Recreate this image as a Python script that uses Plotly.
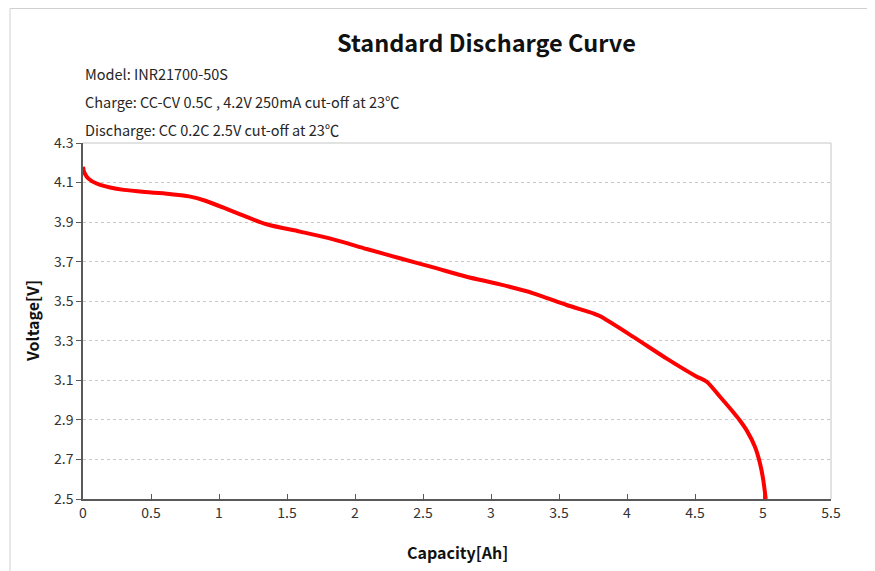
import plotly.graph_objects as go

# Discharge curve
capacity = [0.0, 0.01, 0.04, 0.1, 0.2, 0.3, 0.5, 0.65, 0.78, 0.9, 1.105, 1.35, 1.596,
            1.84, 2.086, 2.33, 2.576, 2.82, 3.066, 3.311, 3.556, 3.752, 3.8, 4.046,
            4.292, 4.51, 4.586, 4.684, 4.78, 4.83, 4.88, 4.94, 4.978, 5.002, 5.02]
voltage = [4.18, 4.15, 4.12, 4.095, 4.075, 4.063, 4.05, 4.041, 4.03, 4.008, 3.953,
           3.889, 3.852, 3.813, 3.764, 3.717, 3.671, 3.624, 3.585, 3.54, 3.481, 3.439,
           3.425, 3.32, 3.21, 3.12, 3.093, 3.017, 2.94, 2.897, 2.847, 2.765, 2.68,
           2.596, 2.50]

x_ticks = [0, 0.5, 1, 1.5, 2, 2.5, 3, 3.5, 4, 4.5, 5, 5.5]
y_ticks = [2.5, 2.7, 2.9, 3.1, 3.3, 3.5, 3.7, 3.9, 4.1, 4.3]

info_lines = [
    "Model: INR21700-50S",
    "Charge: CC-CV 0.5C , 4.2V 250mA cut-off at 23℃",
    "Discharge: CC 0.2C 2.5V cut-off at 23℃",
]

FONT = "Noto Sans CJK KR"
OFF = 8                          # page body margin
W, H = 875 - OFF, 571 - OFF
L, R, T, B = 83, 831, 143, 499   # plot area in page pixels
PW, PH = R - L, B - T


def px(x):
    return (x - L) / PW


def py(y):
    return (B - y) / PH


fig = go.Figure()
fig.add_trace(
    go.Scatter(
        x=capacity,
        y=voltage,
        mode="lines",
        line=dict(color="#ff0000", width=4, shape="spline", smoothing=0.8),
        showlegend=False,
    )
)

# light plot border (top / right) and outer frame
fig.add_shape(type="line", xref="paper", yref="paper", x0=0, x1=1, y0=1, y1=1,
              line=dict(color="#d9d9d9", width=1.5), layer="below")
fig.add_shape(type="line", xref="paper", yref="paper", x0=1, x1=1, y0=0, y1=1,
              line=dict(color="#d9d9d9", width=1.5), layer="below")
fig.add_shape(type="line", xref="paper", yref="paper", x0=px(10), x1=px(875),
              y0=py(8.5), y1=py(8.5), line=dict(color="#d0d0d0", width=1))
fig.add_shape(type="line", xref="paper", yref="paper", x0=px(10), x1=px(10),
              y0=py(8.5), y1=py(571), line=dict(color="#d0d0d0", width=1))

for i, txt in enumerate(info_lines):
    fig.add_annotation(
        text=txt, xref="paper", yref="paper",
        x=0, y=py(74 + i * 27.5),
        xanchor="left", yanchor="middle", showarrow=False,
        font=dict(family=FONT, size=14.5, color="#262626"),
    )

fig.add_annotation(
    text="<b>Standard Discharge Curve</b>", xref="paper", yref="paper",
    x=px(486), y=py(42), xanchor="center", yanchor="middle",
    showarrow=False, font=dict(family=FONT, size=23.5, color="#111111"),
)
fig.add_annotation(
    text="<b>Capacity[Ah]</b>", xref="paper", yref="paper",
    x=px(457), y=py(552), xanchor="center", yanchor="middle",
    showarrow=False, font=dict(family=FONT, size=16, color="#111111"),
)
fig.add_annotation(
    text="<b>Voltage[V]</b>", xref="paper", yref="paper",
    x=px(32), y=py(321), xanchor="center", yanchor="middle", textangle=-90,
    showarrow=False, font=dict(family=FONT, size=16, color="#111111"),
)

fig.update_layout(
    width=W,
    height=H,
    paper_bgcolor="white",
    plot_bgcolor="white",
    margin=dict(l=L - OFF, r=W - (R - OFF), t=T - OFF, b=H - (B - OFF), autoexpand=False),
    font=dict(family=FONT, size=14, color="#333333"),
    xaxis=dict(
        range=[0, 5.5],
        tickvals=x_ticks,
        ticktext=[f"{v:g}" for v in x_ticks],
        ticks="inside", ticklen=5, tickcolor="#595959",
        showline=True, linecolor="#595959", linewidth=1.5,
        showgrid=False, zeroline=False, automargin=False,
        tickfont=dict(size=14, color="#333333"),
    ),
    yaxis=dict(
        range=[2.5, 4.3],
        tickvals=y_ticks,
        ticktext=[f"{v:.1f}" for v in y_ticks],
        ticks="outside", ticklen=5, tickcolor="#595959",
        showline=True, linecolor="#595959", linewidth=1.5,
        showgrid=True, gridcolor="#c8c8c8", griddash="dot", gridwidth=1,
        zeroline=False, automargin=False,
        tickfont=dict(size=14, color="#333333"),
    ),
)

fig.write_html("out.html")
